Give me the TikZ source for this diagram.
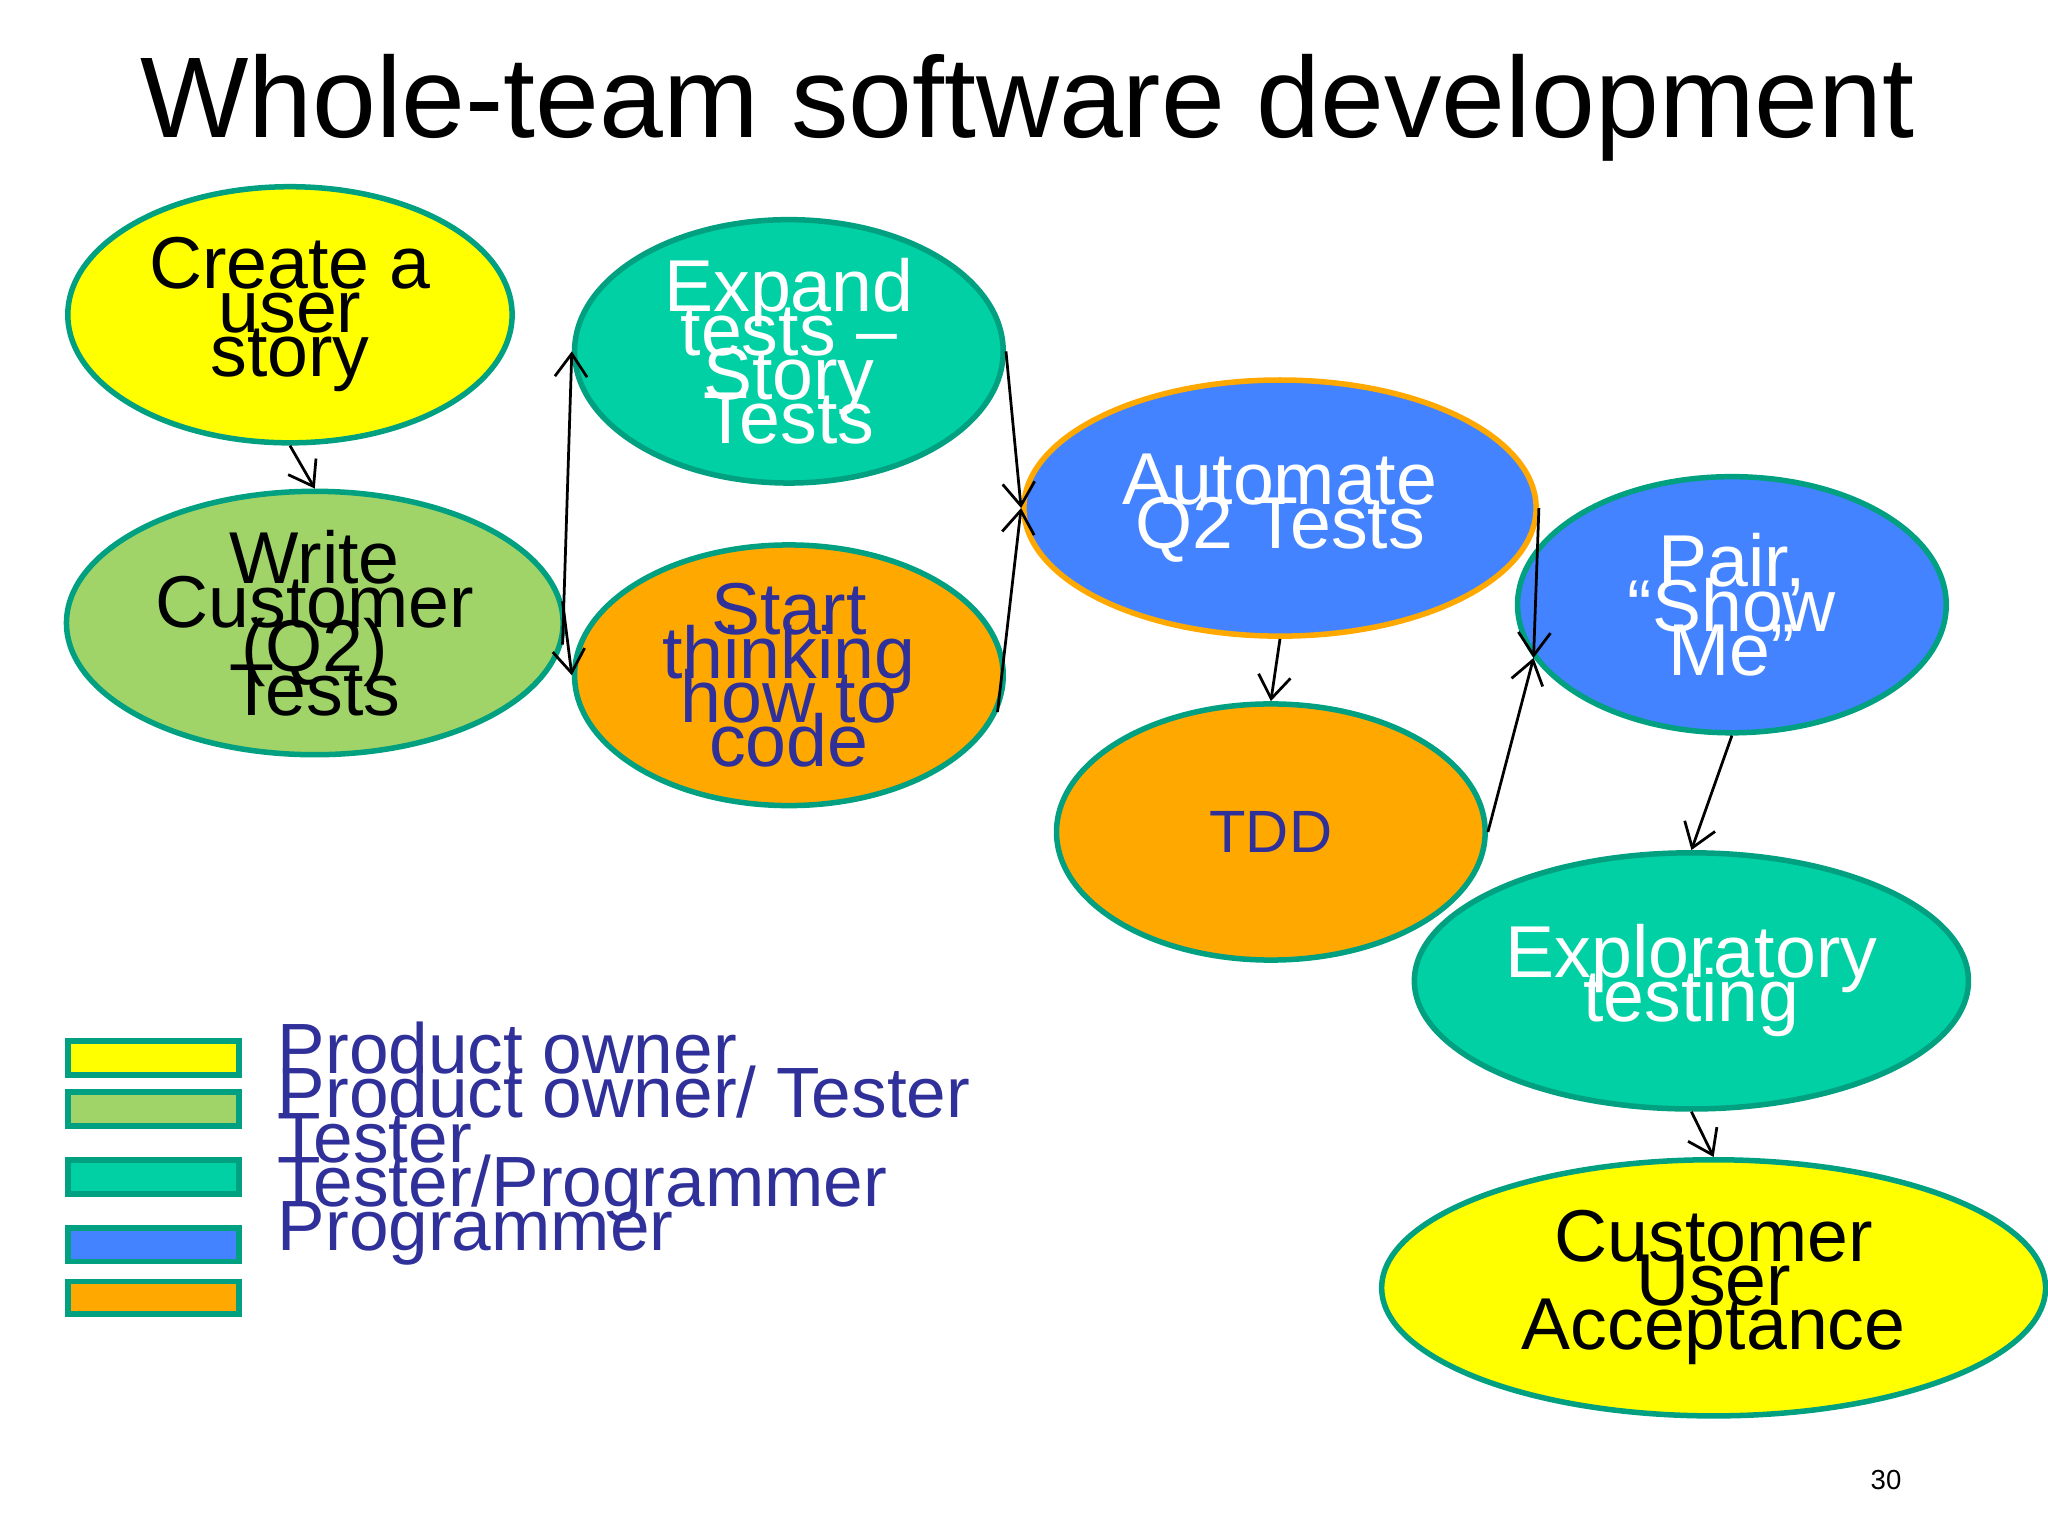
\documentclass[tikz,border=0pt]{standalone}
\usepackage{fontspec}
\setmainfont{Liberation Sans}
\usetikzlibrary{shapes.geometric,arrows.meta}
\definecolor{tealb}{HTML}{00A080}
\definecolor{yel}{HTML}{FFFF00}
\definecolor{lgreen}{HTML}{A0D468}
\definecolor{teal2}{HTML}{00D0A4}
\definecolor{orng}{HTML}{FFA800}
\definecolor{blu}{HTML}{4383FF}
\definecolor{dblue}{HTML}{30309A}
\lineskiplimit=-30pt\relax
\tikzset{
 el/.style={ellipse,draw=tealb,line width=1.2pt,inner sep=0pt,align=center,minimum height=1.96cm,
   font=\fontsize{16}{9.6}\selectfont},
 arr/.style={-{Straight Barb[length=5pt,width=7pt]},line width=0.6pt},
 leg/.style={draw=tealb,line width=1.2pt}
}
\begin{document}
\begin{tikzpicture}[x=0.01cm,y=-0.01cm]
\useasboundingbox (0,0) rectangle (1568,1176);
\node[anchor=base west,font=\fontsize{25}{30}\selectfont] (title) at (95,105) {Whole-team software development};
\node[el,fill=yel,minimum width=3.4cm] (create) at (222,241) {Create a\\user\\story};
\node[el,fill=lgreen,minimum width=3.8cm] (write) at (241,477) {Write\\Customer\\(Q2)\\Tests};
\node[el,fill=teal2,text=white,minimum width=3.28cm] (expand) at (604,269) {Expand\\tests –\\Story\\Tests};
\node[el,fill=orng,text=dblue,minimum width=3.28cm] (start) at (604,517) {Start\\thinking\\how to\\code};
\node[el,draw=orng,fill=blu,text=white,minimum width=3.92cm] (auto) at (980,389) {Automate\\Q2 Tests};
\node[el,fill=orng,text=dblue,minimum width=3.28cm,font=\fontsize{13}{13}\selectfont] (tdd) at (973,637) {TDD};
\node[el,fill=blu,text=white,minimum width=3.28cm] (pair) at (1326,463) {Pair,\\“Show\\Me”};
\node[el,fill=teal2,text=white,minimum width=4.24cm] (expl) at (1295,751) {Exploratory\\testing};
\node[el,fill=yel,minimum width=5.08cm] (cust) at (1312,986) {Customer\\User\\Acceptance};
\draw[arr] (create.south) -- (write.north);
\draw[arr] (write.-5) -- (expand.west);
\draw[arr] (write.5) -- (start.west);
\draw[arr] (expand.east) -- (auto.west);
\draw[arr] (start.-10) -- (auto.west);
\draw[arr] (auto.south) -- (tdd.north);
\draw[arr] (auto.east) -- (pair.195);
\draw[arr] (tdd.east) -- (pair.195);
\draw[arr] (pair.south) -- (expl.north);
\draw[arr] (expl.south) -- (cust.north);
\draw[leg,fill=yel] (52,797) rectangle (183,823);
\draw[leg,fill=lgreen] (52,836) rectangle (183,862);
\draw[leg,fill=teal2] (52,888) rectangle (183,914);
\draw[leg,fill=blu] (52,940) rectangle (183,966);
\draw[leg,fill=orng] (52,981) rectangle (183,1006);
\node[anchor=north west,align=left,text=dblue,inner sep=0pt,font=\fontsize{15.5}{9.6}\selectfont] (legend) at (212,782) {Product owner\\Product owner/ Tester\\Tester\\Tester/Programmer\\Programmer};
\node[font=\fontsize{6}{7}\selectfont] (pg) at (1444,1133) {30};
\end{tikzpicture}
\end{document}
